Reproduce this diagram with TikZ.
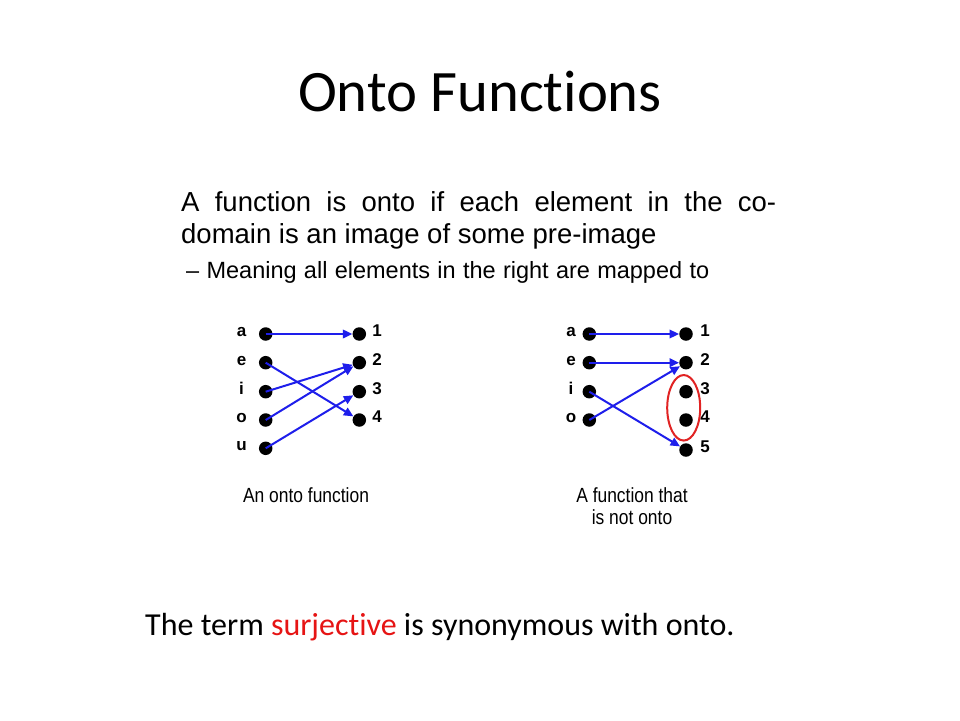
\documentclass[tikz,border=0pt]{standalone}
\usepackage{fontspec}
\setmainfont{Carlito}[Ligatures=NoCommon]
\newfontfamily\arial{Liberation Sans}
\usetikzlibrary{arrows.meta,shapes.geometric}
\definecolor{mapblue}{RGB}{30,30,235}
\definecolor{ringred}{RGB}{225,35,35}
\definecolor{termred}{RGB}{230,20,20}
\tikzset{
  dot/.style={circle,fill=black,inner sep=0pt,minimum size=13.5pt},
  lbl/.style={font=\arial\bfseries\fontsize{17}{20}\selectfont,inner sep=0pt,anchor=base},
  map/.style={draw=mapblue,line width=2pt,-{Triangle[length=9.5pt,width=8.5pt]}},
  captext/.style={font=\arial\fontsize{20.5}{22}\selectfont,inner sep=0pt,anchor=base},
}
\begin{document}
\begin{tikzpicture}[x=1pt,y=-1pt]
\useasboundingbox (0,0) rectangle (960,720);
\fill[white] (0,0) rectangle (960,720);
% title
\node[inner sep=0pt,anchor=base,font=\fontsize{58.7}{70}\selectfont] (title) at (480,111.7) {Onto Functions};
% body text
\node[inner sep=0pt,anchor=base west,font=\arial\fontsize{27.5}{32}\selectfont] (l1) at (181,211.7) {\makebox[595pt][s]{A function is onto if each element in the co-}};
\node[inner sep=0pt,anchor=base west,font=\arial\fontsize{27.5}{32}\selectfont] (l2) at (181,243.5) {domain is an image of some pre-image};
\node[inner sep=0pt,anchor=base west,font=\arial\fontsize{23.5}{28}\selectfont] (l3) at (186,278.3) {\makebox[523pt][s]{– Meaning all elements in the right are mapped to}};
% left diagram
\foreach \n/\y in {a/334,e/362.7,i/391.7,o/420,u/448.3}{
  \node[dot] (L\n) at (265.7,\y) {};
  \node[lbl] (Lt\n) at (241.5,\y+2.5) {\n};
}
\foreach \n/\y in {1/334,2/362.7,3/391.7,4/420}{
  \node[dot] (R\n) at (359.3,\y) {};
  \node[lbl] (Rt\n) at (377,\y+2.5) {\n};
}
\draw[map] (La.center) -- (R1);
\draw[map] (Le.center) -- (R4);
\draw[map] (Li.center) -- (R2);
\draw[map] (Lo.center) -- (R2);
\draw[map] (Lu.center) -- (R3);
% right diagram
\foreach \n/\y in {a/334,e/362.7,i/391.7,o/420}{
  \node[dot] (PL\n) at (589.3,\y) {};
  \node[lbl] (PLt\n) at (571,\y+2.5) {\n};
}
\foreach \n/\y in {1/334,2/362.7,3/391.7,4/420,5/450}{
  \node[dot] (PR\n) at (686,\y) {};
  \node[lbl] (PRt\n) at (705,\y+2.5) {\n};
}
\draw[map] (PLa.center) -- (PR1);
\draw[map] (PLe.center) -- (PR2);
\draw[map] (PLi.center) -- (PR5);
\draw[map] (PLo.center) -- (PR2);
\node[draw=ringred,line width=2pt,ellipse,minimum width=33pt,minimum height=65.5pt,inner sep=0pt] (ring) at (683.7,407.8) {};
% captions
\node[captext] (c1) at (306,502) {\scalebox{0.85}[1]{An onto function}};
\node[captext] (c2) at (632,502) {\scalebox{0.85}[1]{A function that}};
\node[captext] (c3) at (632,524) {\scalebox{0.85}[1]{is not onto}};
% bottom line
\node[inner sep=0pt,anchor=base west,font=\fontsize{32}{38}\selectfont] (bottom) at (145,635.7) {The term \textcolor{termred}{surjective} is synonymous with onto.};
\end{tikzpicture}
\end{document}
